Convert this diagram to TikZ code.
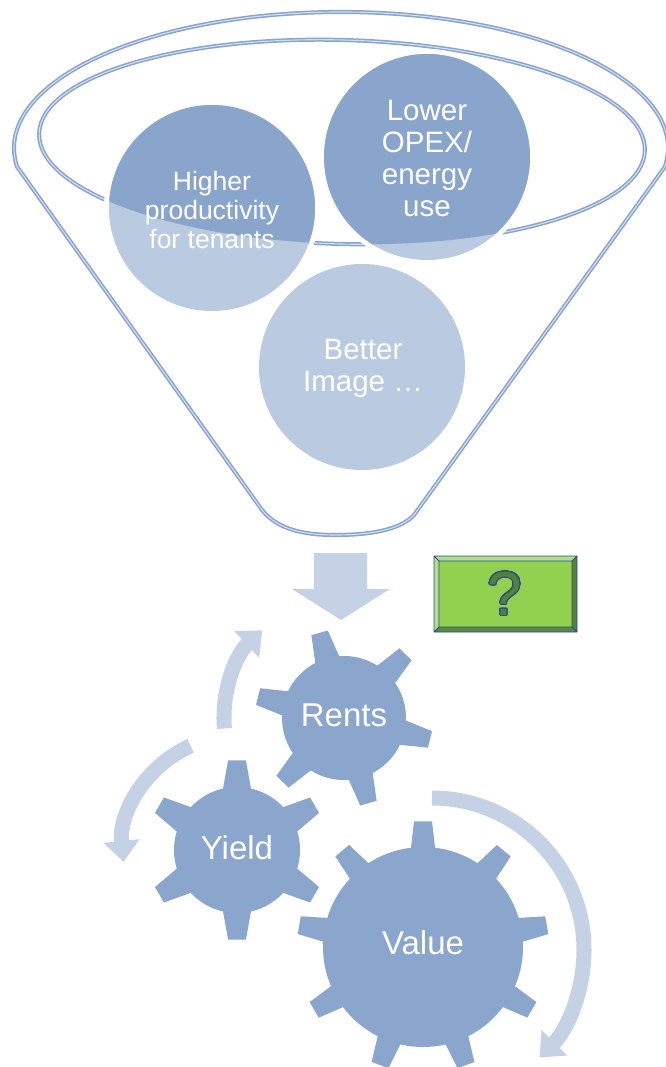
\documentclass[tikz,border=0pt]{standalone}
\usepackage{fontspec}
\setmainfont{Liberation Sans}
\usepackage{contour}
\usetikzlibrary{arrows.meta,calc}
\contourlength{1pt}
\contournumber{32}
\definecolor{funnelc}{HTML}{88A3CE}
\definecolor{funnelin}{HTML}{D3DEF0}
\definecolor{cdark}{HTML}{8AA5CB}
\definecolor{clight}{HTML}{B9CAE1}
\definecolor{gearc}{HTML}{8AA6CC}
\definecolor{arrc}{HTML}{C5D2E5}
\definecolor{boxg}{HTML}{92D050}
\definecolor{boxlight}{HTML}{B3DE88}
\definecolor{boxdark}{HTML}{548235}
\definecolor{boxline}{HTML}{2A4A9C}
\definecolor{qfill}{HTML}{548235}
\newcommand{\mygear}[8]{%
  \begin{scope}[shift={(#1,#2)}]
    \fill[gearc] (0,0) circle[radius=#3];
    \foreach \k in {1,...,#5}{%
      \pgfmathsetmacro{\ang}{#6+360/#5*(\k-1)}%
      \fill[gearc] ({\ang-#7}:{#3-4}) -- ({\ang-#8}:#4) -- ({\ang+#8}:#4) -- ({\ang+#7}:{#3-4}) -- cycle;}
  \end{scope}}
\begin{document}
\begin{tikzpicture}[x=1pt,y=1pt,
  funnelline/.style={draw=funnelc, line width=1.5pt, double=funnelin, double distance=1.1pt},
  lbl/.style={text=white, align=center, inner sep=0pt},
  cyclearrow/.style={draw=arrc, line width=15pt, -{Triangle[width=35pt,length=21pt]}},
  halo/.style={draw=white, line width=5pt}]
\useasboundingbox (0,0) rectangle (665,-1067);

% funnel
\draw[funnelline] (664.8,-166.9) arc[start angle=-8, end angle=188, x radius=327, y radius=136]
  -- (262,-510) .. controls (278,-530) and (305,-535) .. (335,-535)
  .. controls (370,-535) and (400,-530) .. (414,-515) -- cycle;
\draw[funnelline, rotate around={-1.6:(342,-142)}] (342,-142) ellipse[x radius=303, y radius=102];

% circles
\coordinate (ch) at (212,-208);
\coordinate (cl) at (427,-157);
\coordinate (cb) at (362,-367);
\draw[halo] (ch) circle[radius=105.5];
\draw[halo] (cl) circle[radius=105.5];
\draw[halo] (cb) circle[radius=105.5];
\fill[clight] (ch) circle[radius=103];
\fill[clight] (cl) circle[radius=103];
\fill[clight] (cb) circle[radius=103];
\begin{scope}
  \clip[rotate around={-1.6:(342,-142)}] (342,-142) ellipse[x radius=303, y radius=102];
  \fill[cdark] (ch) circle[radius=103];
  \fill[cdark] (cl) circle[radius=103];
\end{scope}
\node[lbl, font=\fontsize{26.5}{29}\selectfont] (higher) at (212,-210) {Higher\\productivity\\for tenants};
\node[lbl, font=\fontsize{29.5}{32}\selectfont] (lower) at (427,-158) {Lower\\OPEX/\\energy\\use};
\node[lbl, font=\fontsize{29.5}{32}\selectfont] (better) at (363,-368) {Better\\Image …};

% down arrow
\fill[arrc] (314,-553) -- (367,-553) -- (367,-589) -- (390,-589) -- (341,-620) -- (292,-589) -- (314,-589) -- cycle;

% green box
\fill[boxg] (434,-556) rectangle (577,-632);
\fill[boxlight] (434,-556) -- (439,-561) -- (439,-627) -- (434,-632) -- cycle;
\fill[boxlight] (434,-556) -- (577,-556) -- (572,-561) -- (439,-561) -- cycle;
\fill[boxdark] (577,-556) -- (577,-632) -- (572,-627) -- (572,-561) -- cycle;
\fill[boxdark!90!boxg] (434,-632) -- (577,-632) -- (572,-627) -- (439,-627) -- cycle;
\draw[boxline, line width=0.8pt] (434,-556) rectangle (577,-632) (439,-561) rectangle (572,-627)
  (434,-556) -- (439,-561) (577,-556) -- (572,-561) (577,-632) -- (572,-627) (434,-632) -- (439,-627);
\node[inner sep=0pt, font=\fontsize{62}{62}\selectfont, text=qfill] (q) at (505,-594) {\contour{boxline}{?}};

% gears
\mygear{344}{-718}{62}{89}{6}{46}{13}{5.5}
\mygear{237}{-850}{63}{90}{6}{30}{14.5}{5.7}
\mygear{423}{-947}{100}{126}{9}{10}{7.5}{4.1}
\node[lbl, font=\fontsize{33}{36}\selectfont] (rents) at (344,-715) {Rents};
\node[lbl, font=\fontsize{33}{36}\selectfont] (yield) at (237,-848) {Yield};
\node[lbl, font=\fontsize{33}{36}\selectfont] (value) at (423,-943) {Value};

% cycle arrows
\coordinate (rc) at (344,-718);
\coordinate (yc) at (237,-850);
\coordinate (vc) at (432,-950);
\coordinate (a1) at ($(rc)+(185:120)$);
\coordinate (a2) at ($(yc)+(114:114)$);
\coordinate (a3) at ($(vc)+(90:152)$);
\draw[cyclearrow] (a1) arc[start angle=185, end angle=133, radius=120];
\draw[cyclearrow] (a2) arc[start angle=114, end angle=186, radius=114];
\draw[cyclearrow] (a3) arc[start angle=90, end angle=-45, radius=152];
\end{tikzpicture}
\end{document}
